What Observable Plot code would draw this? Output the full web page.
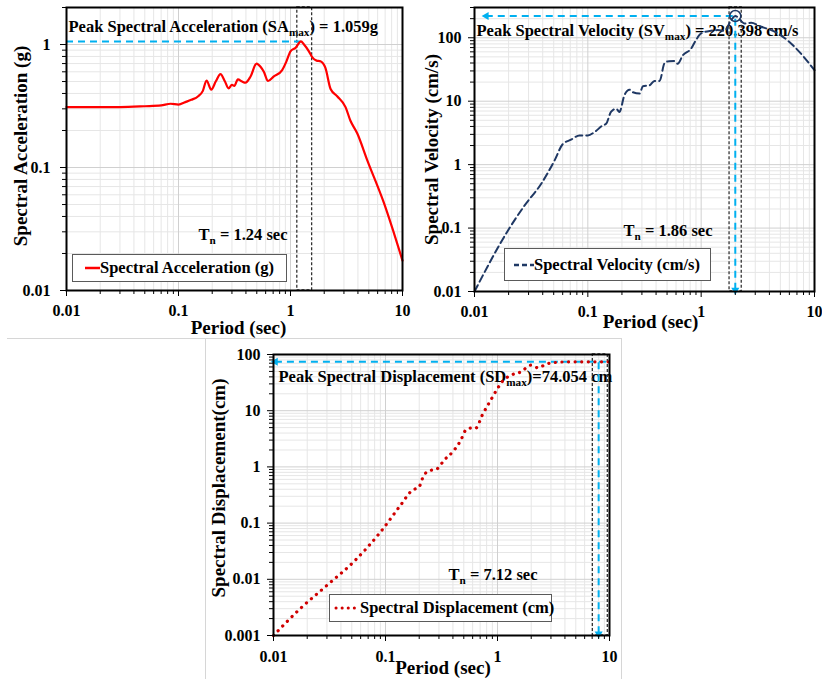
<!DOCTYPE html>
<html><head><meta charset="utf-8">
<script src="https://cdn.jsdelivr.net/npm/d3@7"></script>
<script src="https://cdn.jsdelivr.net/npm/@observablehq/plot@0.6"></script>
<style>
body{margin:0;background:#fff;}
#root{position:relative;width:822px;height:679px;overflow:hidden;background:#fff;font-family:"Liberation Serif","Times New Roman",serif;font-weight:bold;color:#000;}
.panel{position:absolute;}
.legend{position:absolute;box-sizing:border-box;border:1px solid #5a5a5a;background:#fff;display:flex;align-items:center;font-size:16.5px;white-space:nowrap;}
.legend svg{display:block;flex:none;}
.sep{position:absolute;background:#d6d6d6;}
</style></head><body><div id="root"></div><script>
// ---------------- data ----------------
const periodTicks = [0.01, 0.1, 1, 10];
const saTicks = [0.01, 0.1, 1];
const svTicks = [0.01, 0.1, 1, 10, 100];
const sdTicks = [0.001, 0.01, 0.1, 1, 10, 100];

const saPeriod = [0.01, 0.02, 0.03, 0.05, 0.07, 0.085, 0.1, 0.115, 0.13, 0.15, 0.165, 0.178, 0.196, 0.215, 0.237, 0.26, 0.28, 0.30, 0.315, 0.339, 0.37, 0.396, 0.44, 0.497, 0.54, 0.578, 0.63, 0.71, 0.843, 0.92, 1.0, 1.11, 1.24, 1.32, 1.46, 1.56, 1.71, 1.85, 2.05, 2.28, 2.61, 3.1, 3.43, 3.94, 4.84, 6.8, 10];
const saValue  = [0.31, 0.31, 0.31, 0.315, 0.32, 0.33, 0.325, 0.34, 0.355, 0.38, 0.42, 0.51, 0.43, 0.5, 0.575, 0.5, 0.44, 0.47, 0.46, 0.52, 0.5, 0.49, 0.55, 0.70, 0.66, 0.6, 0.505, 0.55, 0.62, 0.73, 0.88, 0.94, 1.059, 1.0, 0.88, 0.79, 0.74, 0.73, 0.645, 0.435, 0.38, 0.31, 0.24, 0.19, 0.115, 0.052, 0.0175];

const svPeriod = [0.01, 0.0197, 0.0276, 0.0388, 0.0508, 0.060, 0.071, 0.0844, 0.1, 0.1146, 0.1355, 0.145, 0.16, 0.178, 0.19, 0.21, 0.233, 0.246, 0.286, 0.306, 0.35, 0.387, 0.43, 0.474, 0.52, 0.582, 0.62, 0.69, 0.817, 0.90, 1.0, 1.22, 1.40, 1.61, 1.84, 2.0, 2.41, 2.76, 3.39, 4.15, 4.77, 6.66, 10];
const svValue  = [0.01, 0.091, 0.226, 0.50, 1.16, 2.1, 2.47, 2.89, 2.89, 3.26, 4.16, 4.4, 6.76, 7.6, 6.76, 12.4, 15.2, 14, 13.2, 17.2, 17.8, 20.9, 20.9, 39.3, 42.8, 43, 39, 53, 67.7, 92, 117, 129, 132, 129, 190, 220.4, 168, 172, 149, 132, 117, 72, 30.8];

const sdPeriod = [0.01, 0.0173, 0.030, 0.052, 0.090, 0.136, 0.173, 0.199, 0.22, 0.244, 0.29, 0.333, 0.41, 0.47, 0.52, 0.576, 0.64, 0.73, 0.87, 1.0, 1.11, 1.32, 1.62, 1.99, 2.29, 2.8, 4.24, 6, 10];
const sdValue  = [0.001, 0.003, 0.0078, 0.0205, 0.069, 0.207, 0.383, 0.44, 0.71, 0.84, 0.93, 1.31, 1.98, 2.98, 4.5, 4.9, 4.9, 8.3, 15.4, 24.8, 33.5, 42.8, 49, 64.6, 58, 69, 74, 74, 74];

// peak markers
const saPeak = {period: 1.24, value: 1.059, box: [1.15, 1.56], guideStart: 0.01, guideStop: 1.24};
const svPeak = {period: 2.0, value: 220.398, box: [1.78, 2.28], guideStart: 0.0127, guideStop: 2.0, guideEnd: 0.0105};
const sdPeak = {period: 8.0, value: 74.054, box: [7.1, 9.66], guideStart: 0.0104, guideStop: 10, guideEnd: 0.00107};

// ---------------- helpers ----------------
const FONT = '"Liberation Serif","Times New Roman",serif';
const BLUE = "#00b0f0", NAVY = "#1f3864", RED = "#ff0000", DRED = "#d00000";
const NS = "http://www.w3.org/2000/svg";
const fmt = d => String(d);
function allTicks(lo, hi) {
  const out = [];
  for (let e = Math.floor(Math.log10(lo)); Math.pow(10, e) <= hi; e++)
    for (let k = 1; k < 10; k++) {
      const v = +(k * Math.pow(10, e)).toPrecision(4);
      if (v >= lo * 0.9999 && v <= hi * 1.0001) out.push(v);
    }
  return out;
}
function applySubscripts(svg) {
  svg.querySelectorAll("text").forEach(t => {
    const s = t.textContent;
    if (!s.includes("_{")) return;
    while (t.firstChild) t.removeChild(t.firstChild);
    const re = /_\{([^}]*)\}/g;
    let last = 0, m, down = false;
    const add = (str, sub) => {
      const ts = document.createElementNS(NS, "tspan");
      ts.textContent = str;
      if (sub) { ts.setAttribute("font-size", "0.68em"); ts.setAttribute("dy", "4"); }
      else if (down) ts.setAttribute("dy", "-4");
      down = sub;
      t.appendChild(ts);
    };
    while ((m = re.exec(s))) {
      if (m.index > last) add(s.slice(last, m.index), false);
      add(m[1], true);
      last = re.lastIndex;
    }
    if (last < s.length) add(s.slice(last), false);
  });
}
const root = document.getElementById("root");

function makePanel(cfg) {
  const xs = allTicks(0.01, 10), ys = allTicks(cfg.yDomain[0], cfg.yDomain[1]);
  const minorX = xs.filter(v => !periodTicks.includes(v));
  const minorY = ys.filter(v => !cfg.yTicks.includes(v));
  const svg = Plot.plot({
    width: cfg.w, height: cfg.h,
    marginLeft: cfg.m[0], marginRight: cfg.m[1], marginTop: cfg.m[2], marginBottom: cfg.m[3],
    x: {type: "log", domain: [0.01, 10]},
    y: {type: "log", domain: cfg.yDomain},
    style: {fontFamily: FONT, fontSize: "16px", fontWeight: "bold", color: "#000", background: "none", overflow: "visible"},
    marks: [
      Plot.gridX({ticks: minorX, stroke: "#e6e6e6", strokeOpacity: 1}),
      Plot.gridY({ticks: minorY, stroke: "#e6e6e6", strokeOpacity: 1}),
      Plot.gridX({ticks: periodTicks, stroke: "#d0d0d0", strokeOpacity: 1}),
      Plot.gridY({ticks: cfg.yTicks, stroke: "#d0d0d0", strokeOpacity: 1}),
      ...cfg.notes.map(n => Plot.text([n.text], {text: d => d, frameAnchor: "top-left", textAnchor: "start", lineAnchor: "bottom", dx: n.dx, dy: n.dy, fontSize: 16.5, fill: "#000"})),
      ...cfg.marks,
      Plot.axisX({ticks: minorX, tickSize: 4, tickFormat: () => "", label: null}),
      Plot.axisX({ticks: periodTicks, tickSize: 6, tickPadding: cfg.xpad, tickFormat: fmt, label: null}),
      Plot.axisY({ticks: minorY, tickSize: 4, tickFormat: () => "", label: null}),
      Plot.axisY({ticks: cfg.yTicks, tickSize: 6, tickPadding: cfg.ypad, tickFormat: fmt, label: null}),
      Plot.frame({stroke: "#000", strokeWidth: 2}),
      Plot.text([cfg.xLabel], {text: d => d, frameAnchor: "bottom", lineAnchor: "bottom", dx: cfg.xl[0], dy: cfg.xl[1], fontSize: 19}),
      Plot.text([cfg.yLabel], {text: d => d, frameAnchor: "left", textAnchor: "middle", lineAnchor: "middle", rotate: -90, dx: cfg.yl[0], dy: cfg.yl[1], fontSize: 19})
    ]
  });
  applySubscripts(svg);
  svg.classList.add("panel");
  svg.style.left = cfg.left + "px";
  svg.style.top = cfg.top + "px";
  root.appendChild(svg);
}

function guideMarks(peak, opts) {
  const out = [];
  out.push(Plot.ruleY([peak.value], {x1: peak.guideStart, x2: peak.guideStop, stroke: BLUE, strokeWidth: 2, strokeDasharray: "7,5"}));
  if (opts.vertical) {
    out.push(Plot.ruleX([peak.period], {y1: peak.guideEnd, y2: peak.value, stroke: BLUE, strokeWidth: 2, strokeDasharray: "7,5"}));
    out.push(Plot.dot([peak], {x: "period", y: "guideEnd", symbol: "triangle", r: 3, fill: BLUE, rotate: 180}));
  }
  if (opts.leftArrow) out.push(Plot.dot([peak], {x: "guideStart", y: "value", symbol: "triangle", r: 3, fill: BLUE, rotate: -90}));
  return out;
}
function boxMark(peak) {
  return Plot.rect([peak], {x1: d => d.box[0], x2: d => d.box[1], fill: "none", stroke: "#333", strokeWidth: 1.3, strokeDasharray: "3,2"});
}

// separators
[[7, 338, 615, 1], [205, 338, 1, 341], [621, 338, 1, 341]].forEach(([l, t, w, h]) => {
  const d = document.createElement("div"); d.className = "sep";
  Object.assign(d.style, {left: l + "px", top: t + "px", width: w + "px", height: h + "px"});
  root.appendChild(d);
});

const sa = saPeriod.map((T, i) => ({T, v: saValue[i]}));
const sv = svPeriod.map((T, i) => ({T, v: svValue[i]}));
const sd = sdPeriod.map((T, i) => ({T, v: sdValue[i]}));

makePanel({
  left: 0, top: 0, w: 411, h: 340, m: [66, 9, 7, 50],
  yDomain: [0.01, 2], yTicks: saTicks, xpad: 8.6, ypad: 10,
  xLabel: "Period (sec)", xl: [4, 43], yLabel: "Spectral Acceleration (g)", yl: [-46, -3],
  notes: [{text: "Peak Spectral Acceleration (SA_{max}) = 1.059g", dx: 2, dy: 24}, {text: "T_{n} = 1.24 sec", dx: 132, dy: 232}],
  marks: [
    boxMark(saPeak),
    ...guideMarks(saPeak, {}),
    Plot.line(sa, {x: "T", y: "v", stroke: RED, strokeWidth: 2.2, curve: "monotone-x"})
  ]
});

makePanel({
  left: 411, top: 0, w: 411, h: 340, m: [63, 8, 7, 49],
  yDomain: [0.01, 300], yTicks: svTicks, xpad: 8.3, ypad: 7,
  xLabel: "Period (sec)", xl: [6, 36], yLabel: "Spectral Velocity (cm/s)", yl: [-43, 0],
  notes: [{text: "Peak Spectral Velocity (SV_{max}) = 220.398 cm/s", dx: 2, dy: 28}, {text: "T_{n} = 1.86 sec", dx: 149, dy: 228}],
  marks: [
    boxMark(svPeak),
    ...guideMarks(svPeak, {vertical: true, leftArrow: true}),
    Plot.line(sv, {x: "T", y: "v", stroke: NAVY, strokeWidth: 2, strokeDasharray: "7,4", curve: "monotone-x"}),
    Plot.dot([svPeak], {x: "period", y: "value", r: 5.5, stroke: NAVY, strokeWidth: 1.5, fill: "none"})
  ]
});

makePanel({
  left: 200, top: 335, w: 422, h: 344, m: [73, 13, 19, 44],
  yDomain: [0.001, 100], yTicks: sdTicks, xpad: 9.3, ypad: 7,
  xLabel: "Period (sec)", xl: [1.5, 38], yLabel: "Spectral Displacement(cm)", yl: [-55, -7],
  notes: [{text: "Peak Spectral Displacement (SD_{max})=74.054 cm", dx: 5, dy: 27.7}, {text: "T_{n} = 7.12 sec", dx: 175, dy: 225}],
  marks: [
    boxMark(sdPeak),
    ...guideMarks(sdPeak, {vertical: true, leftArrow: true}),
    Plot.line(sd, {x: "T", y: "v", stroke: DRED, strokeWidth: 3.2, strokeDasharray: "0.1,6.5", strokeLinecap: "round", curve: "monotone-x"})
  ]
});

// legends
function legend(l, t, w, h, pad, sample, label) {
  const d = document.createElement("div"); d.className = "legend";
  Object.assign(d.style, {left: l + "px", top: t + "px", width: w + "px", height: h + "px", paddingLeft: pad + "px"});
  d.innerHTML = sample + `<span>${label}</span>`;
  root.appendChild(d);
}
legend(72, 254, 215, 28, 12, `<svg width="15" height="10"><line x1="0" y1="5" x2="15" y2="5" stroke="${RED}" stroke-width="2.5"/></svg>`, "Spectral Acceleration (g)");
legend(504, 248, 207, 33, 9, `<svg width="20" height="10"><line x1="0" y1="5" x2="20" y2="5" stroke="${NAVY}" stroke-width="2.5" stroke-dasharray="5,3"/></svg>`, "Spectral Velocity (cm/s)");
legend(329, 594, 223, 28, 4, `<svg width="22" height="10" style="margin-right:4px"><line x1="2" y1="5" x2="21" y2="5" stroke="${DRED}" stroke-width="3" stroke-linecap="round" stroke-dasharray="0.1,6"/></svg>`, "Spectral Displacement (cm)");
</script></body></html>
